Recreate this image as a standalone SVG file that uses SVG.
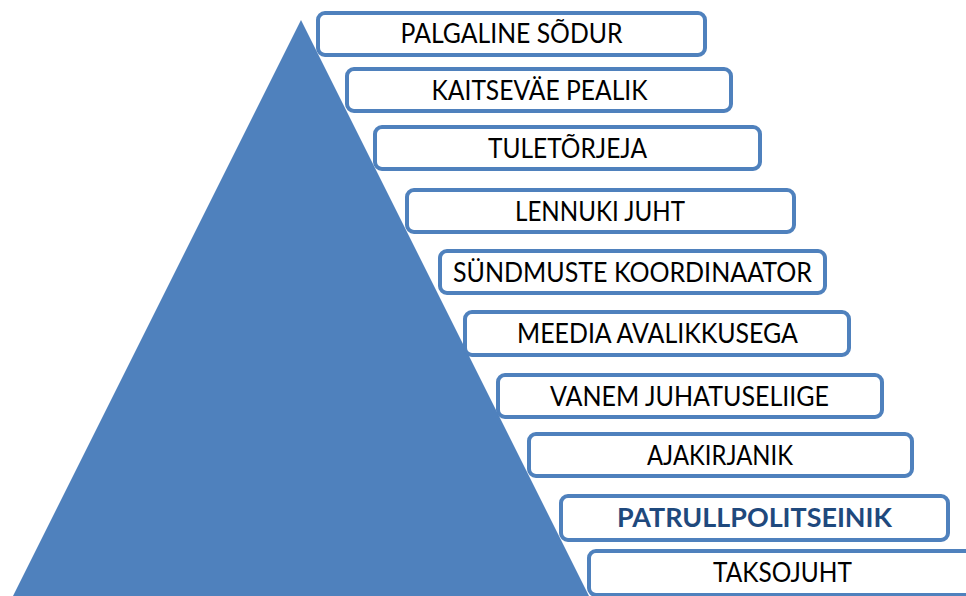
<svg xmlns="http://www.w3.org/2000/svg" width="966" height="596" viewBox="0 0 966 596">
<style>
.box{fill:#fff;stroke:#4F81BD;stroke-width:4}
.t{font-family:Lato,"Liberation Sans",sans-serif;font-size:27px;fill:#000;text-anchor:middle}
.b{font-weight:bold;fill:#1F497D}
</style>
<rect width="966" height="596" fill="#fff"/>
<g id="pyramid"><polygon points="301,20 589,596 13,596" fill="#4F81BD"/></g>
<g id="connectors"></g>
<g id="n1"><rect class="box" x="318" y="13" width="387" height="42" rx="7"/><text class="t" x="511.5" y="43" textLength="222" lengthAdjust="spacingAndGlyphs">PALGALINE SÕDUR</text></g>
<g id="n2"><rect class="box" x="347" y="69" width="384" height="42" rx="7"/><text class="t" x="539.5" y="100" textLength="216" lengthAdjust="spacingAndGlyphs">KAITSEVÄE PEALIK</text></g>
<g id="n3"><rect class="box" x="375" y="127" width="385" height="42" rx="7"/><text class="t" x="567.5" y="158" textLength="159" lengthAdjust="spacingAndGlyphs">TULETÕRJEJA</text></g>
<g id="n4"><rect class="box" x="407" y="190" width="387" height="42" rx="7"/><text class="t" x="600" y="221" textLength="170" lengthAdjust="spacingAndGlyphs">LENNUKI JUHT</text></g>
<g id="n5"><rect class="box" x="440" y="251" width="385" height="42" rx="7"/><text class="t" x="632.5" y="282" textLength="359" lengthAdjust="spacingAndGlyphs">SÜNDMUSTE KOORDINAATOR</text></g>
<g id="n6"><rect class="box" x="465" y="312" width="384" height="43" rx="7"/><text class="t" x="657.5" y="343" textLength="281" lengthAdjust="spacingAndGlyphs">MEEDIA AVALIKKUSEGA</text></g>
<g id="n7"><rect class="box" x="498" y="375" width="384" height="42" rx="7"/><text class="t" x="689.5" y="406" textLength="279" lengthAdjust="spacingAndGlyphs">VANEM JUHATUSELIIGE</text></g>
<g id="n8"><rect class="box" x="529" y="434" width="383" height="42" rx="7"/><text class="t" x="720" y="465" textLength="146" lengthAdjust="spacingAndGlyphs">AJAKIRJANIK</text></g>
<g id="n9"><rect class="box" x="561" y="496" width="387" height="44" rx="7"/><text class="t b" x="754.5" y="527" textLength="275" lengthAdjust="spacingAndGlyphs">PATRULLPOLITSEINIK</text></g>
<g id="n10"><rect class="box" x="589" y="551" width="387" height="44" rx="7"/><text class="t" x="782.5" y="582" textLength="139" lengthAdjust="spacingAndGlyphs">TAKSOJUHT</text></g>
</svg>
